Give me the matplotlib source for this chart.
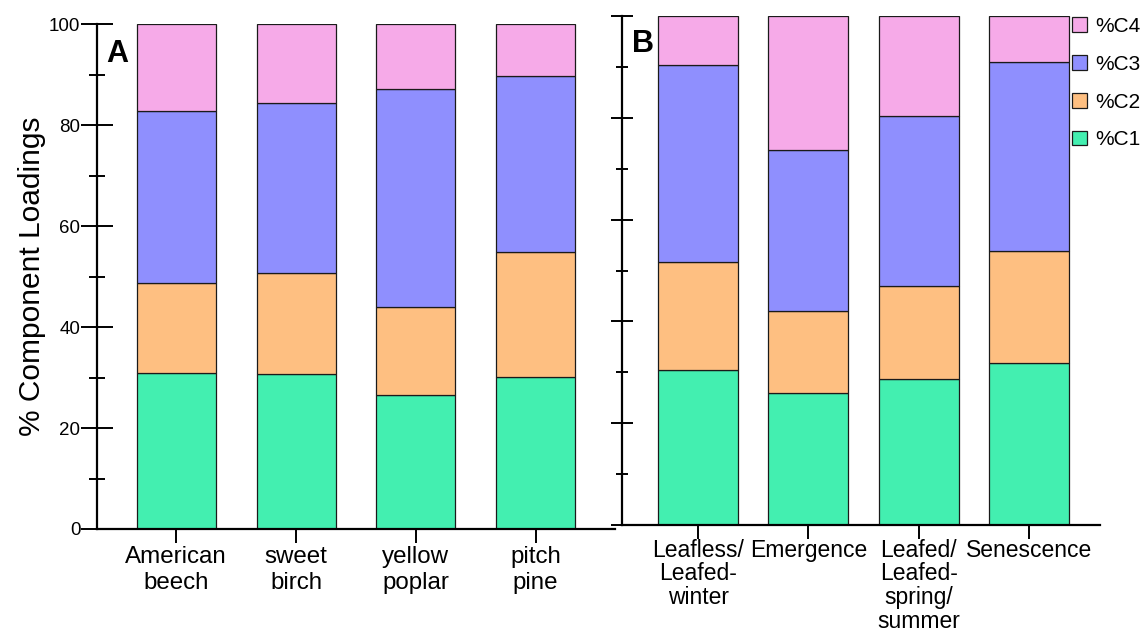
import matplotlib.pyplot as plt
from matplotlib.patches import Patch
from matplotlib.ticker import MultipleLocator

plt.rcParams['font.family'] = ['Liberation Sans', 'DejaVu Sans']

# panel A: species
species = ["American\nbeech", "sweet\nbirch", "yellow\npoplar", "pitch\npine"]
a_c1 = [31.0, 30.7, 26.5, 30.1]
a_c2 = [17.8, 20.0, 17.5, 24.8]
a_c3 = [34.1, 33.8, 43.3, 34.8]
a_c4 = [17.1, 15.5, 12.7, 10.3]

# panel B: phenology
phases = ["Leafless/\nLeafed-\nwinter", "Emergence", "Leafed/\nLeafed-\nspring/\nsummer", "Senescence"]
b_c1 = [30.4, 26.0, 28.6, 31.9]
b_c2 = [21.2, 16.1, 18.3, 21.9]
b_c3 = [38.8, 31.6, 33.5, 37.2]
b_c4 = [9.6, 26.3, 19.6, 9.0]

comp_names = ["%C1", "%C2", "%C3", "%C4"]
colors = ["#43EFB0", "#FEBF81", "#8F8FFE", "#F6AAE8"]

fig = plt.figure(figsize=(11.42, 6.33), dpi=100)
axA = fig.add_axes([0.0849, 0.1643, 0.4536, 0.797])
axB = fig.add_axes([0.5447, 0.1706, 0.4186, 0.804])


def stacked(ax, labels, series, width, fs, ls):
    x = list(range(len(labels)))
    bottom = [0.0] * len(labels)
    for vals, col in zip(series, colors):
        ax.bar(x, vals, width, bottom=bottom, color=col, edgecolor="#1a1a1a", linewidth=0.9)
        bottom = [b + v for b, v in zip(bottom, vals)]
    ax.set_xticks(x)
    ax.set_xticklabels(labels, fontsize=fs, linespacing=ls)
    ax.spines["top"].set_visible(False)
    ax.spines["right"].set_visible(False)
    for s in ["left", "bottom"]:
        ax.spines[s].set_linewidth(1.6)
    ax.set_ylim(0, 100)
    ax.yaxis.set_major_locator(MultipleLocator(20))
    ax.yaxis.set_minor_locator(MultipleLocator(10))
    ax.tick_params(axis="x", direction="out", length=10, width=1.4, pad=2)


stacked(axA, species, [a_c1, a_c2, a_c3, a_c4], 0.66, 17.4, 1.25)
axA.set_xlim(-0.6625, 3.6625)
axA.tick_params(axis="y", which="major", direction="inout", length=23, width=1.4, labelsize=13.5, pad=0.5)
axA.tick_params(axis="y", which="minor", direction="inout", length=11, width=1.4)
axA.set_ylabel("% Component Loadings", fontsize=21.5, labelpad=2)
axA.text(0.018, 0.972, "A", transform=axA.transAxes, fontsize=22, fontweight="bold", va="top", ha="left")

stacked(axB, phases, [b_c1, b_c2, b_c3, b_c4], 0.725, 16.5, 1.03)
axB.set_xlim(-0.689, 3.644)
axB.tick_params(axis="x", pad=0)
axB.tick_params(axis="y", which="major", direction="inout", length=16, width=1.4, labelleft=False)
axB.tick_params(axis="y", which="minor", direction="inout", length=9, width=1.4)
axB.text(0.02, 0.975, "B", transform=axB.transAxes, fontsize=22, fontweight="bold", va="top", ha="left")

handles = [Patch(facecolor=c, edgecolor="#1a1a1a", linewidth=0.9) for c in colors]
fig.legend(handles[::-1], comp_names[::-1], loc="upper left", bbox_to_anchor=(0.9385, 0.973),
           frameon=False, fontsize=15, handlelength=0.72, handleheight=0.72,
           handletextpad=0.42, labelspacing=0.9, borderaxespad=0, borderpad=0)

fig.savefig("out.png", dpi=100)
